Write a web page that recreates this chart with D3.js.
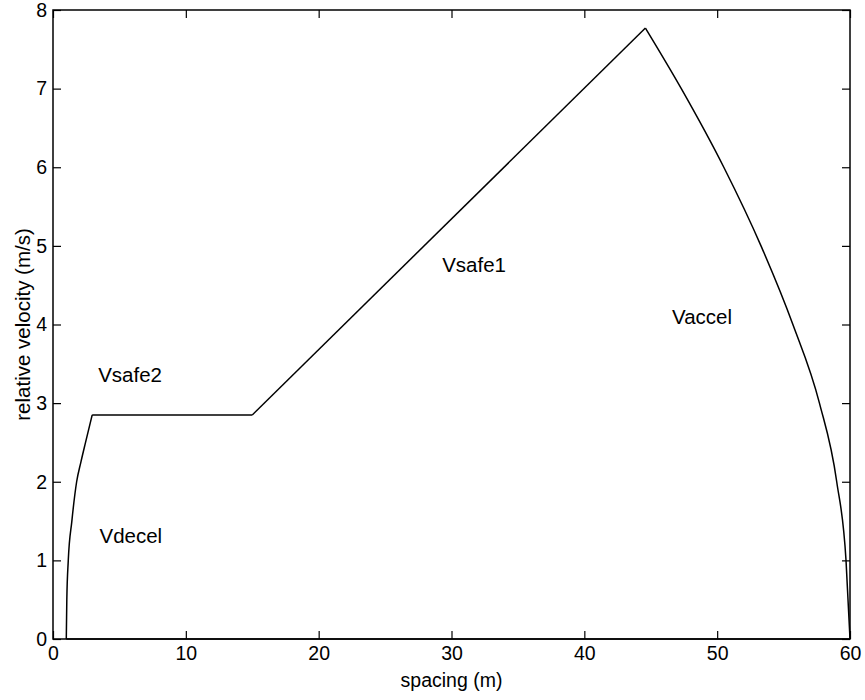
<!DOCTYPE html>
<html>
<head>
<meta charset="utf-8">
<script src="https://cdn.jsdelivr.net/npm/d3@7"></script>
<style>
body { margin: 0; background: #fff; }
svg { font-family: "Liberation Sans", Arial, sans-serif; }
</style>
</head>
<body>
<svg id="chart"></svg>
<script>
var width = 865;
var height = 700;
var margin = {top: 10, right: 15, bottom: 61, left: 53};

// curves: spacing (m) vs relative velocity (m/s)
var decelX = [1.0, 1.04, 1.15, 1.42, 1.78, 2.1, 2.45, 2.95];
var decelV = [0, 0.5, 1.0, 1.5, 2.0, 2.25, 2.5, 2.85];

var safe2X = [2.95, 15.0];
var safe2V = [2.85, 2.85];

var safe1X = [15.0, 44.6];
var safe1V = [2.85, 7.77];

var accelX = [44.6, 47.3, 50.5, 53.3, 55.7, 57.7, 59.0, 59.7, 60];
var accelV = [7.77, 7, 6, 5, 4, 3, 2, 1, 0];

var zeroX = [1.0, 60];
var zeroV = [0, 0];

var labelText = ["Vsafe2", "Vdecel", "Vsafe1", "Vaccel"];
var labelX = [3.4, 3.5, 29.3, 46.6];
var labelV = [3.36, 1.31, 4.76, 4.1];

var xTicks = [0, 10, 20, 30, 40, 50, 60];
var yTicks = [0, 1, 2, 3, 4, 5, 6, 7, 8];

var svg = d3.select("#chart")
    .attr("width", width)
    .attr("height", height)

var w = width - margin.left - margin.right;
var h = height - margin.top - margin.bottom;

var g = svg.append("g")
    .attr("transform", "translate(" + margin.left + "," + margin.top + ")")

var x = d3.scaleLinear().domain([0, 60]).range([0, w])
var y = d3.scaleLinear().domain([0, 8]).range([h, 0])

// axes, ticks pointing inward like matlab
g.append("g")
    .attr("transform", "translate(0," + h + ")")
    .call(d3.axisBottom(x).tickValues(xTicks).tickSize(-8).tickPadding(7))
g.append("g")
    .call(d3.axisLeft(y).tickValues(yTicks).tickSize(-8).tickPadding(6))
g.append("g")
    .call(d3.axisTop(x).tickValues(xTicks).tickSize(-8).tickFormat(""))
g.append("g")
    .attr("transform", "translate(" + w + ",0)")
    .call(d3.axisRight(y).tickValues(yTicks).tickSize(-8).tickFormat(""))

g.selectAll(".domain").remove()
g.selectAll(".tick line").attr("stroke", "#000").attr("stroke-width", 1.2)
g.selectAll(".tick text")
    .attr("fill", "#000")
    .attr("font-size", "19.5px")
    .attr("font-family", "Liberation Sans, Arial, sans-serif")

g.append("rect")
    .attr("x", 0).attr("y", 0)
    .attr("width", w).attr("height", h)
    .attr("fill", "none")
    .attr("stroke", "#000")
    .attr("stroke-width", 1.5)

var line = d3.line()
    .x(function(d) { return x(d[0]) })
    .y(function(d) { return y(d[1]) })

var smooth = d3.line()
    .curve(d3.curveMonotoneX)
    .x(function(d) { return x(d[0]) })
    .y(function(d) { return y(d[1]) })

var curves = [[decelX, decelV, smooth], [safe2X, safe2V, line], [safe1X, safe1V, line], [accelX, accelV, smooth], [zeroX, zeroV, line]];

curves.forEach(function(c) {
    var pts = c[0].map(function(v, i) { return [v, c[1][i]] })
    g.append("path")
        .datum(pts)
        .attr("d", c[2])
        .attr("fill", "none")
        .attr("stroke", "#000")
        .attr("stroke-width", 1.5)
})

labelText.forEach(function(t, i) {
    g.append("text")
        .attr("x", x(labelX[i]))
        .attr("y", y(labelV[i]))
        .attr("dy", "0.35em")
        .attr("font-size", "20.5px")
        .attr("fill", "#000")
        .text(t)
})

svg.append("text")
    .attr("x", margin.left + w / 2)
    .attr("y", margin.top + h + 48)
    .attr("text-anchor", "middle")
    .attr("font-size", "19.5px")
    .text("spacing (m)")

svg.append("text")
    .attr("transform", "translate(23," + (margin.top + h / 2) + ") rotate(-90)")
    .attr("text-anchor", "middle")
    .attr("dy", "0.35em")
    .attr("font-size", "20.5px")
    .text("relative velocity (m/s)")
</script>
</body>
</html>
